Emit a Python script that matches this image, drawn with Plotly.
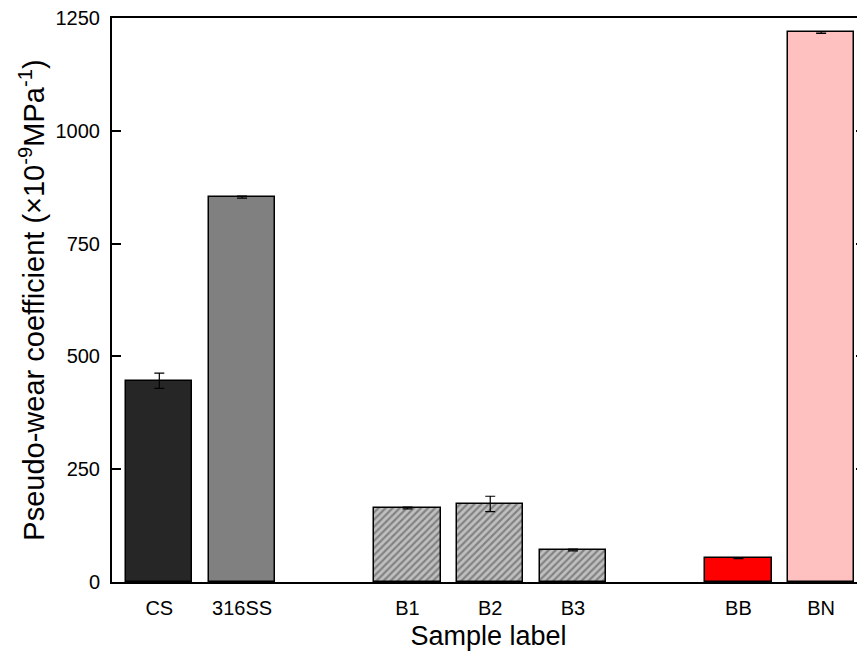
import plotly.graph_objects as go

categories = ["CS", "316SS", "B1", "B2", "B3", "BB", "BN"]
positions = [1, 2, 4, 5, 6, 8, 9]
values = [446, 853, 164, 173, 71, 53, 1218]
errors = [17, 2, 2, 17, 2, 1, 2]
colors = ["#262626", "#808080", "#c0c0c0", "#c0c0c0", "#c0c0c0", "#ff0000", "#ffc0c0"]
patterns = ["", "", "/", "/", "/", "", ""]
y_ticks = [0, 250, 500, 750, 1000, 1250]

fig = go.Figure()
fig.add_trace(go.Bar(
    x=positions, y=values, width=0.8,
    marker=dict(color=colors, line=dict(color="#000000", width=1.5),
                pattern=dict(shape=patterns, fgcolor="#111111", size=5, solidity=0.45)),
    error_y=dict(type="data", array=errors, color="#000000", thickness=1.2, width=5),
    showlegend=False,
))

font = "Liberation Sans, Arial, sans-serif"
fig.update_layout(
    width=865, height=664,
    margin=dict(l=104, r=8, t=10, b=90),
    paper_bgcolor="white", plot_bgcolor="white",
    font=dict(family=font, color="#000000", size=20),
    bargap=0,
    xaxis=dict(range=[0.428, 9.53], tickmode="array", tickvals=positions, ticktext=categories,
               ticks="", showline=True, linecolor="#000000", linewidth=2, mirror=True,
               showgrid=False, zeroline=False, tickfont=dict(size=20), automargin=False,
               ticklabelstandoff=7,
               title=dict(text="Sample label", font=dict(size=27), standoff=8)),
    yaxis=dict(range=[0, 1250], tickmode="array", tickvals=y_ticks,
               ticks="inside", ticklen=9, tickwidth=1.5, tickcolor="#000000",
               showline=True, linecolor="#000000", linewidth=2, mirror="ticks",
               showgrid=False, zeroline=False, tickfont=dict(size=20), automargin=False,
               ticklabelstandoff=6, ticklabeloverflow="allow",
               title=dict(text="Pseudo-wear coefficient (×10<sup>-9</sup>MPa<sup>-1</sup>)",
                          font=dict(size=29), standoff=2)),
)
fig.write_html("out.html")
